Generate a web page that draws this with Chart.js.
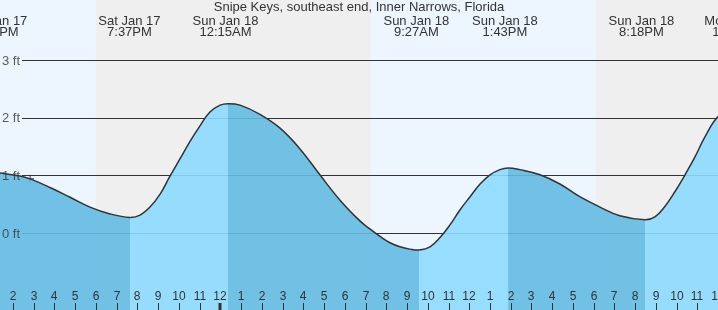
<!DOCTYPE html>
<html>
<head>
<meta charset="utf-8">
<script src="https://cdn.jsdelivr.net/npm/chart.js@4.4.1/dist/chart.umd.min.js"></script>
<style>
  html, body { margin: 0; padding: 0; background: #fff; }
  #tide { display: block; }
</style>
</head>
<body>
<canvas id="tide" width="718" height="310"></canvas>
<script>
// hours relative to midnight Sun Jan 18, heights in ft
const hours = [-10.8, -9.65, -9.17, -8.21, -7.24, -6.28, -5.31, -4.35, -3.87, -3.39, -2.91, -2.42, -1.94, -1.46, -0.98, -0.5, -0.01, 0.37,
  0.95, 1.91, 2.88, 3.84, 4.8, 5.77, 6.73, 7.21, 7.7, 8.18, 8.66, 9.14, 9.58, 10.11, 10.59, 11.07, 11.55, 12.04, 12.52, 13.0, 13.48, 13.87,
  14.44, 15.41, 16.37, 17.33, 18.3, 19.26, 20.47, 20.95, 21.43, 21.92, 22.4, 22.88, 23.36, 23.99, 24.9];
const heights = [1.05, 0.99, 0.94, 0.79, 0.62, 0.45, 0.33, 0.27, 0.31, 0.45, 0.67, 0.99, 1.29, 1.59, 1.86, 2.1, 2.22, 2.245,
  2.22, 2.06, 1.82, 1.46, 1.01, 0.57, 0.21, 0.07, -0.06, -0.17, -0.24, -0.28, -0.295, -0.24, -0.08, 0.14, 0.4, 0.63, 0.85, 1.01, 1.1, 1.13,
  1.1, 1.01, 0.85, 0.63, 0.45, 0.3, 0.23, 0.28, 0.46, 0.72, 1.01, 1.32, 1.67, 2.02, 2.25];

// high / low labels at the top
const extremeHours = [-10.8, -4.38, 0.25, 9.45, 13.72, 20.3, 24.97];
const extremeDays = ['Sat Jan 17', 'Sat Jan 17', 'Sun Jan 18', 'Sun Jan 18', 'Sun Jan 18', 'Sun Jan 18', 'Mon Jan 19'];
const extremeTimes = ['1:12PM', '7:37PM', '12:15AM', '9:27AM', '1:43PM', '8:18PM', '12:58AM'];

// night spans (sunset -> sunrise)
const nightStart = [-6.0, 18.1];
const nightEnd = [7.25, 26];

const nowHour = -9.17;
const nowHeight = 0.94;

const yTicks = [0, 1, 2, 3];
const xTicks = [];
for (let h = -10; h <= 24; h++) xTicks.push(h);

const title = 'Snipe Keys, southeast end, Inner Narrows, Florida';

const DARK = 'rgba(98,187,226,0.9)';
const LIGHT = 'rgba(140,218,254,0.9)';
const FONT = '"Liberation Sans", Arial, sans-serif';

function clockLabel(h) {
  const v = ((h % 12) + 12) % 12;
  return String(v === 0 ? 12 : v);
}

const backdrop = {
  id: 'backdrop',
  beforeDraw(chart) {
    const { ctx, chartArea: a, scales: { x } } = chart;
    ctx.save();
    ctx.fillStyle = '#edf6fe';
    ctx.fillRect(a.left, a.top, a.right - a.left, a.bottom - a.top);
    ctx.fillStyle = '#efefef';
    nightStart.forEach((s, i) => {
      const x0 = Math.max(a.left, x.getPixelForValue(s));
      const x1 = Math.min(a.right, x.getPixelForValue(nightEnd[i]));
      ctx.fillRect(x0, a.top, x1 - x0, a.bottom - a.top);
    });
    ctx.restore();
  },
  beforeDatasetsDraw(chart) {
    const { ctx, chartArea: a, scales: { y } } = chart;
    ctx.save();
    ctx.strokeStyle = '#333';
    ctx.lineWidth = 1;
    yTicks.forEach(t => {
      const py = Math.round(y.getPixelForValue(t)) + 0.5;
      ctx.beginPath();
      ctx.moveTo(22, py);
      ctx.lineTo(a.right, py);
      ctx.stroke();
    });
    ctx.restore();
  },
  afterDatasetsDraw(chart) {
    const { ctx, chartArea: a, scales: { x, y } } = chart;
    ctx.save();
    // y labels
    ctx.font = '13px ' + FONT;
    ctx.textBaseline = 'middle';
    ctx.textAlign = 'left';
    ctx.fillStyle = 'rgba(51,51,51,0.8)';
    yTicks.forEach(t => ctx.fillText(t + ' ft', 2, y.getPixelForValue(t) + 1));

    // hour ticks
    ctx.font = '12px ' + FONT;
    ctx.textAlign = 'center';
    ctx.textBaseline = 'alphabetic';
    ctx.fillStyle = '#333';
    ctx.strokeStyle = '#333';
    xTicks.forEach(h => {
      const px = Math.round(x.getPixelForValue(h));
      ctx.fillText(clockLabel(h), px, 300);
      ctx.lineWidth = h === 0 ? 3 : 1;
      ctx.beginPath();
      ctx.moveTo(h === 0 ? px : px + 0.5, 303);
      ctx.lineTo(h === 0 ? px : px + 0.5, a.bottom);
      ctx.stroke();
    });

    // title and high/low labels
    ctx.font = '13px ' + FONT;
    ctx.fillText(title, (a.left + a.right) / 2, 11);
    extremeHours.forEach((h, i) => {
      const px = x.getPixelForValue(h);
      ctx.fillText(extremeDays[i], px, 25);
      ctx.fillText(extremeTimes[i], px, 36);
    });
    ctx.restore();
  }
};

new Chart(document.getElementById('tide'), {
  type: 'line',
  data: {
    datasets: [{
      data: hours.map((h, i) => ({ x: h, y: heights[i] })),
      borderColor: '#333',
      borderWidth: 1.5,
      backgroundColor: DARK,
      fill: 'start',
      pointRadius: 0,
      tension: 0.4,
      segment: {
        backgroundColor: c => c.p1.parsed.y > c.p0.parsed.y ? LIGHT : DARK
      }
    }, {
      type: 'scatter',
      data: [{ x: nowHour, y: nowHeight }],
      pointStyle: 'cross',
      pointRadius: 4,
      borderColor: '#333',
      borderWidth: 1,
      showLine: false
    }]
  },
  options: {
    responsive: false,
    animation: false,
    layout: { padding: 0, autoPadding: false },
    plugins: { legend: { display: false }, tooltip: { enabled: false } },
    scales: {
      x: { type: 'linear', min: -10.62, max: 23.99, display: false },
      y: { min: -1.337, max: 4.045, display: false }
    }
  },
  plugins: [backdrop]
});
</script>
</body>
</html>
